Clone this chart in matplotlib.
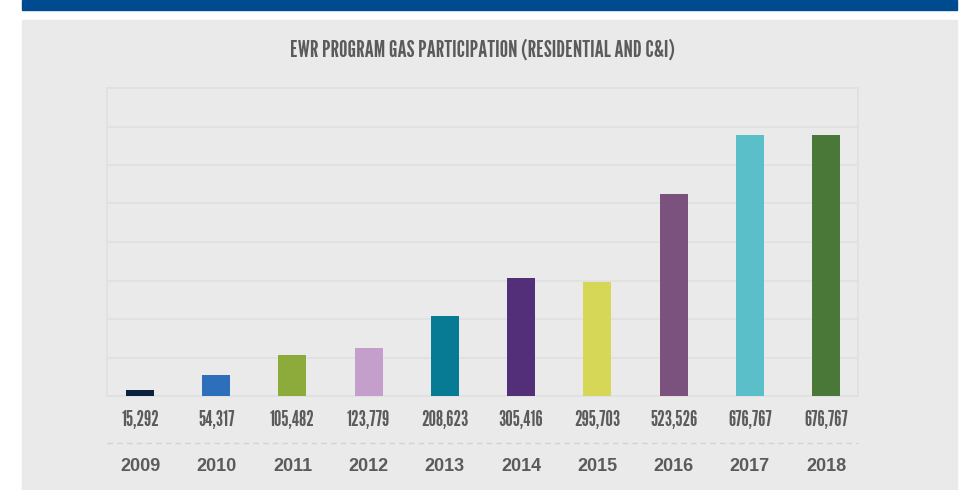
import matplotlib.pyplot as plt
from matplotlib.patches import Rectangle
from matplotlib.lines import Line2D

# data
years = ['2009', '2010', '2011', '2012', '2013', '2014', '2015', '2016', '2017', '2018']
participants = [15292, 54317, 105482, 123779, 208623, 305416, 295703, 523526, 676767, 676767]
bar_colors = ['#0c2040', '#2d6fbb', '#8dab3b', '#c49fcb', '#067b93',
              '#532f7a', '#d6d756', '#7b527e', '#5bbfca', '#4a7838']
title = 'EWR PROGRAM GAS PARTICIPATION (RESIDENTIAL AND C&I)'

# condensed display font for title / values, with fallbacks
narrow = ['League Gothic', 'Bebas Neue', 'Oswald', 'Roboto Condensed',
          'Liberation Sans Narrow', 'DejaVu Sans']
text_col = '#5b5b5b'

W, H = 970, 490
fig = plt.figure(figsize=(W / 100, H / 100), dpi=100)
fig.patch.set_facecolor('white')

# blue band and gray panel
fig.patches.append(Rectangle((22 / W, 1 - 10 / H), (957 - 22) / W, 10 / H,
                             transform=fig.transFigure, color='#004a8f', zorder=-2))
fig.patches.append(Rectangle((22 / W, 0), (957 - 22) / W, 1 - 20 / H,
                             transform=fig.transFigure, color='#eaeaea', zorder=-2))

ax = fig.add_axes([107 / W, (H - 396) / H, 751 / W, 308 / H])
ax.set_facecolor('#eaeaea')
x = range(len(years))
ax.bar(x, participants, width=0.367, color=bar_colors, zorder=3)
ax.set_xlim(-0.433, 9.42)
ax.set_ylim(0, 800000)
ax.set_yticks(range(0, 800001, 100000))
ax.grid(axis='y', color='#e0e0e0', linewidth=1.2, zorder=0)
ax.tick_params(left=False, bottom=False, labelleft=False, labelbottom=False)
for s in ax.spines.values():
    s.set_color('#e0e0e0')
    s.set_linewidth(1.2)

# value labels and years under the axis
for i, v in enumerate(participants):
    ax.annotate(f'{v:,}', (i, 0), xytext=(0, -24), textcoords='offset pixels',
                ha='center', va='center', family=narrow, fontsize=15,
                color=text_col, annotation_clip=False)
    ax.annotate(years[i], (i, 0), xytext=(0, -70), textcoords='offset pixels',
                ha='center', va='center', fontsize=13, color=text_col,
                family='Liberation Sans', fontweight='bold', annotation_clip=False)

fig.lines.append(Line2D([107 / W, 858 / W], [(H - 443) / H] * 2, transform=fig.transFigure,
                        color='#d2d2d2', linestyle=(0, (4, 3)), linewidth=1, zorder=-1))

fig.text(482.5 / W, 1 - 50 / H, title, ha='center', va='center',
         family=narrow, fontsize=17, color=text_col)

fig.savefig('out.png', dpi=100)
